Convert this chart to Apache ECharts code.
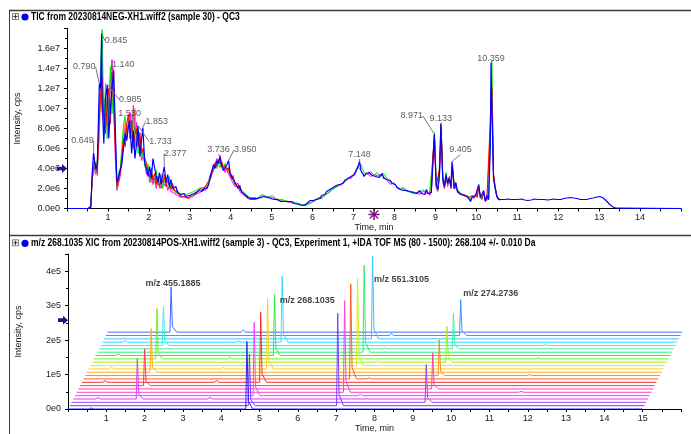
<!DOCTYPE html>
<html>
<head>
<meta charset="utf-8">
<title>TIC and XIC overlay</title>
<script src="https://cdn.jsdelivr.net/npm/echarts@6/dist/echarts.min.js"></script>
<style>
html,body{margin:0;padding:0;background:#fff;}
#chart{width:691px;height:434px;}
</style>
</head>
<body>
<div id="chart"></div>
<script>
// ---------------- TIC panel (intensities in 1e6 cps) ----------------
// main trace sampled every 0.04 min starting at 0.50 min
const ticStart = 0.50;
const ticStep = 0.04;
const ticEnd = 15;
const ticBlue = [
  0, 0, 0.1, 3.8, 4.6, 3.9, 4.4, 9.5, 12.0, 10.5,
  6.5, 11.0, 9.0, 7.0, 10.0, 12.0, 13.5, 8.0, 2.6, 3.2,
  3.0, 4.5, 6.0, 7.5, 6.8, 8.2, 7.6, 5.5, 7.8, 5.0,
  6.5, 7.0, 5.2, 6.8, 7.2, 4.5, 4.0, 3.2, 4.2, 3.0,
  5.0, 4.8, 3.2, 2.6, 3.6, 2.4, 3.4, 3.9, 2.6, 3.4,
  2.2, 2.9, 2.0, 1.8, 2.2, 1.6, 1.5, 1.4, 1.3, 1.5,
  1.2, 1.1, 1.3, 1.2, 1.4, 1.3, 1.5, 1.6, 1.8, 1.9,
  1.7, 2.0, 2.2, 2.0, 2.4, 3.2, 3.8, 4.4, 4.0, 4.8,
  4.5, 5.0, 4.2, 3.8, 3.9, 4.3, 4.6, 3.6, 3.2, 3.0,
  2.6, 2.8, 2.0, 2.3, 1.7, 1.6, 1.4, 1.2, 1.1, 0.9,
  1.0, 0.8, 1.0, 1.1, 1.0, 1.2, 1.1, 1.3, 1.2, 1.3,
  1.1, 1.2, 1.0, 1.1, 0.9, 0.8, 0.9, 0.8, 0.7, 0.8,
  0.7, 0.6, 0.7, 0.6, 0.7, 0.6, 0.5, 0.55, 0.45, 0.4,
  0.35, 0.3, 0.3, 0.35, 0.5, 0.6, 0.8, 0.9, 0.8, 1.0,
  0.9, 1.1, 1.0, 1.3, 1.5, 1.4, 1.7, 1.6, 1.9, 1.8,
  2.1, 2.0, 2.3, 2.2, 2.4, 2.6, 2.5, 2.8, 2.7, 3.0,
  2.9, 3.2, 3.1, 3.4, 3.6, 4.1, 4.5, 3.8, 3.5, 3.2,
  3.5, 3.3, 3.6, 3.4, 3.3, 3.5, 3.2, 3.4, 3.1, 3.3,
  3.5, 3.0, 3.2, 2.9, 2.7, 2.8, 2.5, 2.3, 2.4, 2.1,
  2.2, 1.9, 2.0, 1.8, 1.7, 1.8, 1.6, 1.7, 1.5, 1.6,
  1.4, 1.5, 1.4, 1.8, 1.5, 1.7, 1.4, 1.9, 1.5, 1.3,
  1.6, 4.5, 6.8, 2.4, 1.9, 3.5, 8.0, 3.0, 2.2, 3.4,
  2.5, 3.0, 2.2, 3.8, 2.0, 2.6, 1.7, 1.6, 1.4, 1.5,
  1.3, 1.4, 1.2, 1.3, 0.7, 1.2, 1.1, 1.3, 1.2, 2.4,
  1.1, 1.0, 1.8, 0.7, 1.3, 0.9, 6.0, 10.0, 3.0, 2.0,
  1.2, 0.9, 0.8, 0.9, 0.85, 0.9, 0.8, 0.95, 0.85, 0.9,
  0.85, 0.9, 0.8, 0.9, 0.85, 0.95, 0.9, 0.85, 0.9, 0.8,
  0.9, 0.85, 0.9, 0.95, 0.85, 0.9, 0.8, 0.9, 0.85, 0.9,
  0.95, 0.85, 0.9, 0.9, 0.85, 0.95, 0.9, 0.9, 0.95, 0.9,
  0.95, 1.0, 0.95, 1.05, 1.0, 1.1, 1.0, 1.05, 0.95, 1.0,
  0.95, 0.9, 0.95, 0.9, 0.95, 0.9, 0.95, 1.0, 0.95, 1.05,
  1.1, 1.15, 1.2, 1.2, 1.15, 1.05, 0.9, 0.75, 0.55, 0.4,
  0.25, 0.15, 0.08, 0.03, 0
];

// replicate injections, early window (same grid, from 0.50 min)
const ticRedEarly = [
  0, 0, 0.2, 3.4, 4.2, 4.6, 3.6, 8.0, 11.5, 13.0,
  9.0, 7.5, 10.5, 12.0, 8.5, 13.6, 10.0, 6.0, 2.2, 2.8,
  3.6, 5.2, 7.0, 6.2, 8.5, 9.4, 7.0, 8.8, 6.0, 7.4,
  8.0, 6.2, 7.6, 5.5, 6.0, 5.0, 4.6, 3.6, 3.2, 4.0,
  2.8, 3.5, 2.4, 3.2, 2.2, 3.0, 2.6, 3.4, 2.2, 2.8,
  2.4, 2.0, 2.5, 1.8, 1.6, 1.7, 1.3, 1.4, 1.2, 1.3,
  1.1, 1.2, 1.0, 1.3, 1.2, 1.5, 1.4, 1.7, 1.6, 2.0,
  1.9, 1.8, 2.3, 2.1, 2.6, 3.0, 3.6, 4.0, 4.6, 4.2,
  4.9, 4.4, 4.7, 4.0, 4.3, 3.8, 4.1, 3.4, 3.0, 3.3,
  2.4, 2.2, 2.5, 1.9, 1.8, 1.5, 1.6, 1.3, 1.2, 1.0,
  1.1, 0.9, 1.0, 1.0
];
const ticGreenEarly = [
  0, 0, 0.3, 3.0, 4.8, 3.4, 5.0, 7.0, 14.0, 17.9,
  8.0, 12.5, 7.0, 10.0, 14.2, 9.5, 12.8, 7.0, 2.0, 3.6,
  4.0, 6.0, 8.4, 9.2, 7.2, 9.0, 8.0, 7.0, 9.5, 6.2,
  7.8, 5.5, 6.6, 5.0, 5.6, 4.2, 3.8, 4.4, 2.8, 3.6,
  3.0, 2.6, 3.8, 2.4, 2.8, 3.4, 2.0, 2.8, 3.0, 2.1,
  3.2, 1.9, 2.2, 2.0, 1.5, 1.8, 1.6, 1.2, 1.5, 1.3,
  1.4, 1.2, 1.5, 1.4, 1.6, 1.5, 1.8, 1.7, 2.0, 1.8,
  2.1, 2.3, 2.0, 2.5, 2.8, 3.4, 3.2, 3.9, 4.3, 4.0,
  4.4, 4.1, 4.6, 4.2, 4.5, 4.0, 3.7, 3.8, 3.4, 2.8,
  3.0, 2.4, 2.6, 2.1, 1.9, 1.7, 1.5, 1.4, 1.2, 1.1,
  1.0, 1.1, 0.9, 1.1
];
const ticMagentaEarly = [
  0, 0, 0.1, 3.2, 3.6, 4.4, 3.3, 9.0, 12.6, 9.6,
  11.0, 8.0, 11.8, 9.0, 12.4, 14.9, 11.0, 5.0, 1.8, 2.5,
  3.2, 4.6, 6.5, 8.0, 7.0, 8.4, 9.6, 7.5, 10.3, 7.6,
  8.6, 6.5, 7.2, 4.8, 5.2, 4.6, 3.4, 4.0, 2.6, 3.2,
  2.4, 3.0, 2.0, 2.7, 2.5, 2.0, 2.8, 2.3, 2.6, 1.8,
  2.2, 1.7, 1.9, 1.5, 1.4, 1.3, 1.2, 1.1, 1.0, 1.2,
  1.0, 1.1, 0.9, 1.2, 1.1, 1.3, 1.4, 1.5, 1.7, 1.6,
  1.9, 2.0, 1.8, 2.2, 2.5, 2.9, 3.4, 3.8, 4.4, 5.0,
  4.6, 5.3, 4.5, 4.1, 3.6, 4.0, 3.5, 3.2, 2.8, 3.0,
  2.2, 2.0, 2.2, 1.7, 1.6, 1.4, 1.3, 1.1, 1.0, 0.9,
  0.8, 0.9, 0.8, 0.9
];
const ticOrangeEarly = [
  0, 0, 0.2, 3.6, 4.0, 4.2, 4.0, 6.5, 10.8, 12.2,
  8.6, 9.5, 8.2, 11.0, 9.4, 11.6, 13.8, 6.5, 2.4, 3.0,
  3.8, 5.6, 7.4, 8.6, 7.8, 8.0, 8.6, 9.4, 7.2, 10.0,
  7.0, 7.4, 5.8, 6.2, 5.2, 4.8, 4.2, 3.4, 3.6, 2.6,
  3.4, 2.9, 2.6, 3.0, 2.0, 2.6, 2.4, 3.0, 2.4, 2.5,
  2.0, 2.4, 1.7, 2.0, 1.6, 1.5, 1.4, 1.3, 1.2, 1.1,
  1.3, 1.0, 1.2, 1.1, 1.3, 1.2, 1.6, 1.5, 1.8, 1.7,
  2.0, 1.9, 2.2, 2.3, 2.7, 3.1, 3.5, 4.2, 4.0, 4.5,
  4.3, 4.8, 4.4, 4.5, 4.1, 4.2, 3.6, 3.9, 3.1, 2.9,
  2.7, 2.3, 2.4, 2.0, 1.7, 1.6, 1.4, 1.3, 1.1, 1.0,
  0.9, 1.0, 1.0, 0.9
];

// replicate injections, middle window (every 0.08 min from 4.62 min)
const midStart = 4.62;
const midStep = 0.08;
const ticGreenMid = [
  1.0, 1.2, 1.4, 1.2, 1.1, 1.3, 1.0, 0.9, 0.8, 0.8,
  0.7, 0.7, 0.6, 0.5, 0.4, 0.35, 0.4, 0.7, 0.9, 1.0,
  1.1, 1.3, 1.6, 1.9, 2.0, 2.4, 2.3, 2.7, 2.9, 3.2,
  3.3, 4.0, 4.4, 3.6, 3.4, 3.7, 3.3, 3.6, 3.2, 3.5,
  3.0, 2.6, 2.5, 2.2, 2.0, 2.1, 1.8, 1.6, 1.7, 1.5,
  1.6, 1.9, 1.5, 1.5
];
const ticMagentaMid = [
  0.9, 1.1, 1.3, 1.1, 1.2, 1.1, 0.9, 0.8, 0.9, 0.7,
  0.6, 0.7, 0.5, 0.5, 0.35, 0.3, 0.5, 0.6, 0.8, 1.1,
  1.0, 1.4, 1.5, 1.8, 2.1, 2.2, 2.5, 2.6, 3.0, 3.0,
  3.5, 4.2, 3.8, 3.3, 3.5, 3.2, 3.4, 3.3, 3.4, 3.2,
  2.8, 2.4, 2.6, 2.1, 1.9, 2.0, 1.7, 1.7, 1.5, 1.6,
  1.4, 1.7, 1.6, 1.4
];

// replicate injections, late window (every 0.04 min from 8.86 min)
const lateStart = 8.86;
const ticRedLate = [
  1.4, 1.7, 5.5, 7.0, 2.2, 2.0, 4.0, 8.2, 3.2, 2.0,
  3.0, 2.6, 3.2, 2.0, 4.2, 2.2, 2.4, 1.8, 1.5, 1.6,
  1.4, 1.5, 1.2, 1.4, 1.1, 0.9, 1.3, 1.0, 1.4, 1.1,
  2.0, 1.2, 0.9, 1.6, 0.8, 1.2, 1.0, 8.0, 12.0, 3.5,
  2.2, 1.3, 1.0, 0.9
];
const ticGreenLate = [
  1.5, 1.5, 5.0, 7.6, 2.6, 1.8, 4.5, 8.6, 2.8, 2.4,
  3.6, 2.4, 2.8, 2.4, 4.0, 2.4, 2.2, 1.9, 1.7, 1.5,
  1.6, 1.3, 1.5, 1.3, 1.2, 1.0, 1.2, 1.2, 1.3, 1.2,
  2.2, 1.0, 1.1, 1.5, 0.9, 1.1, 1.0, 7.0, 14.8, 3.2,
  2.0, 1.2, 1.0, 0.9
];
const ticMagentaLate = [
  1.3, 1.6, 4.8, 6.4, 2.0, 1.7, 3.2, 7.6, 2.6, 2.1,
  3.2, 2.2, 2.9, 2.1, 4.4, 2.0, 2.3, 1.6, 1.6, 1.4,
  1.5, 1.4, 1.3, 1.2, 1.2, 0.8, 1.1, 1.1, 1.2, 1.0,
  1.9, 1.1, 1.0, 1.4, 0.8, 1.0, 0.9, 7.5, 11.0, 3.0,
  2.1, 1.2, 0.9, 0.8
];
const ticOrangeLate = [
  1.5, 1.6, 5.2, 6.8, 2.3, 1.9, 3.8, 7.9, 3.0, 2.2,
  3.3, 2.5, 3.0, 2.3, 4.1, 2.1, 2.5, 1.7, 1.6, 1.5,
  1.5, 1.4, 1.4, 1.3, 1.1, 0.9, 1.2, 1.1, 1.3, 1.1,
  2.1, 1.1, 1.0, 1.5, 0.8, 1.1, 1.0, 9.0, 13.0, 3.3,
  2.2, 1.3, 1.0, 0.9
];

// labelled apexes of the main trace (retention time in min, intensity in 1e6 cps)
const peakTimes = [0.649, 0.790, 0.845, 0.985, 1.140, 1.530, 1.733, 1.853, 2.377, 3.736, 3.950, 7.148, 8.971, 9.133, 9.405, 10.359];
const peakValues = [5.6, 12.5, 17.5, 12.4, 13.8, 8.8, 8.3, 8.1, 4.2, 5.2, 4.8, 4.7, 7.45, 8.45, 4.7, 14.6];

// ---------------- XIC panel (waterfall of 24 traces) ----------------
const xicTraceCount = 24;
const xicEnd = 15;
const xicShiftMin = 0.045;   // horizontal step between stacked traces (min)
const xicShiftCps = 9700;    // vertical step between stacked traces (cps)
// peaks: [trace index, retention time (min), height (cps)]
const peaks455 = [[3, 1.675, 117000], [7, 1.685, 107000], [11, 1.675, 127000], [15, 1.645, 146000], [19, 1.635, 112000], [23, 1.655, 131000]];
const peaks268 = [[0, 4.67, 196000], [1, 4.69, 150000], [4, 4.68, 213000], [8, 4.67, 203000], [12, 4.67, 204000], [16, 4.67, 177000], [20, 4.69, 192000]];
const peaks551 = [[1, 6.995, 268000], [5, 6.995, 266000], [9, 6.975, 276000], [13, 6.975, 252000], [17, 6.965, 252000], [21, 7.005, 240000]];
const peaks274 = [[2, 9.26, 110000], [6, 9.25, 105000], [10, 9.24, 104000], [14, 9.26, 105000], [18, 9.25, 104000], [22, 9.26, 104000]];
// small baseline bumps: [trace index, retention time (min), height (cps)]
const xicBumps = [
  [0, 0.61, 3000], [3, 0.645, 4000], [8, 0.61, 5000], [12, 0.60, 5000], [16, 0.60, 4000], [20, 0.59, 5000],
  [3, 3.57, 5000], [8, 3.52, 5000], [12, 3.52, 4000], [15, 3.555, 5000], [20, 3.55, 4000], [23, 3.545, 6000],
  [4, 7.45, 4000], [9, 7.45, 3000], [14, 7.45, 4000], [18, 7.45, 3000], [22, 7.45, 5000],
  [5, 11.6, 3000], [10, 11.6, 3000], [15, 11.6, 3000], [19, 11.6, 3000]
];
const xicLabelNames = ['m/z 455.1885', 'm/z 268.1035', 'm/z 551.3105', 'm/z 274.2736'];
const xicLabelTraces = [23, 20, 21, 22];

// ---------------- styles ----------------
const FONT = "'Liberation Sans', Arial, sans-serif";
const xicColors = [
  '#2626ff', '#7a3cff', '#a83cff', '#d040f0', '#ff40ff', '#ff40d8',
  '#ff40a8', '#ff3070', '#ff2a2a', '#ff5a2a', '#ff8a1a', '#ffaa20',
  '#ffd020', '#d8ef20', '#a8f020', '#70f020', '#30f030', '#30f070',
  '#40f0a8', '#40f0d8', '#30e0ff', '#40c0ff', '#4096ff', '#4068ff'
];
// label displacement for the TIC apex labels [dx, dy] in px
const peakLabelShift = [[-11, -4.5], [-15, -9.5], [14.5, 14], [23, 22], [9.5, 1], [0, 0], [22.5, 23], [14, 1], [11, -6], [-1.5, 0], [16.5, -3.5], [0, 0], [-22.5, -11], [0, 2], [8.5, -4.5], [0, 3]];
const xicLabelPlacement = [
  { position: 'top', distance: 0, offset: [2, 1.5] },
  { position: 'right', distance: 0, offset: [-3, 24] },
  { position: 'right', distance: 0, offset: [1, 23] },
  { position: 'right', distance: 0, offset: [2, -6] }
];

// ---------------- helpers ----------------
function gridPoints(start, step, values) {
  return values.map((v, k) => [+(start + step * k).toFixed(3), v * 1e6]);
}

function xicTrace(i) {
  const events = [];
  [peaks455, peaks268, peaks551, peaks274].forEach(list => list.forEach(p => {
    if (p[0] === i) events.push({ rt: p[1], h: p[2], peak: true });
  }));
  xicBumps.forEach(b => { if (b[0] === i) events.push({ rt: b[1], h: b[2], peak: false }); });
  events.sort((a, b) => a.rt - b.rt);
  const pts = [[0, 0]];
  events.forEach(e => {
    if (e.peak) pts.push([e.rt - 0.03, 0], [e.rt, e.h], [e.rt + 0.035, e.h * 0.12], [e.rt + 0.15, 0]);
    else pts.push([e.rt - 0.06, 0], [e.rt, e.h], [e.rt + 0.06, 0]);
  });
  pts.push([xicEnd, 0]);
  return pts.map(p => [p[0] + i * xicShiftMin, p[1] + i * xicShiftCps]);
}

const blueData = [[0, 0]]
  .concat(gridPoints(ticStart, ticStep, ticBlue).filter(p => !peakTimes.some(t => Math.abs(t - p[0]) < 0.012)))
  .concat(peakTimes.map((t, i) => [t, peakValues[i] * 1e6]))
  .concat([[ticEnd, 0]])
  .sort((a, b) => a[0] - b[0]);

function ticLine(data, color, width) {
  return {
    type: 'line', xAxisIndex: 0, yAxisIndex: 0, data: data,
    showSymbol: false, symbol: 'none', silent: true,
    lineStyle: { color: color, width: width || 1 }, z: 2
  };
}

const arrowPath = 'path://M0,3 L5,3 L5,0 L10,5 L5,10 L5,7 L0,7 Z';
const series = [
  ticLine(gridPoints(ticStart, ticStep, ticOrangeEarly), '#ff8c00'),
  ticLine(gridPoints(lateStart, ticStep, ticOrangeLate), '#ff8c00'),
  ticLine(gridPoints(ticStart, ticStep, ticMagentaEarly), '#ff00ff'),
  ticLine(gridPoints(midStart, midStep, ticMagentaMid), '#ff00ff'),
  ticLine(gridPoints(lateStart, ticStep, ticMagentaLate), '#ff00ff'),
  ticLine(gridPoints(ticStart, ticStep, ticGreenEarly), '#00ee00'),
  ticLine(gridPoints(midStart, midStep, ticGreenMid), '#00ee00'),
  ticLine(gridPoints(lateStart, ticStep, ticGreenLate), '#00ee00'),
  ticLine(gridPoints(ticStart, ticStep, ticRedEarly), '#ff0000'),
  ticLine(gridPoints(lateStart, ticStep, ticRedLate), '#ff0000'),
  Object.assign(ticLine(blueData, '#0000ff', 1.2), {
    markPoint: {
      silent: true,
      label: { show: false },
      data: [
        { coord: [0, 4e6], symbol: arrowPath, symbolSize: [10, 9], symbolOffset: [-5, 0], itemStyle: { color: '#17178f' } },
        { coord: [7.5, 0], symbol: 'path://M4.3,0 L5.7,0 L5.7,3.6 L8.3,1 L9.2,1.9 L6.6,4.3 L10,4.3 L10,5.7 L6.6,5.7 L9.2,8.1 L8.3,9 L5.7,6.4 L5.7,10 L4.3,10 L4.3,6.4 L1.7,9 L0.8,8.1 L3.4,5.7 L0,5.7 L0,4.3 L3.4,4.3 L0.8,1.9 L1.7,1 L4.3,3.6 Z', symbolSize: 11, symbolOffset: [0, 6], itemStyle: { color: '#7d137d' } }
      ]
    }
  }),
  {
    type: 'scatter', xAxisIndex: 0, yAxisIndex: 0, silent: true, z: 5,
    data: peakTimes.map((t, i) => [t, peakValues[i] * 1e6]),
    symbol: 'circle', symbolSize: 1, itemStyle: { color: 'rgba(0,0,0,0)' },
    label: {
      show: true, position: 'top', distance: 2,
      formatter: p => p.value[0].toFixed(3),
      color: '#333', fontFamily: FONT, fontSize: 9
    },
    labelLayout: p => ({ dx: peakLabelShift[p.dataIndex][0], dy: peakLabelShift[p.dataIndex][1] }),
    labelLine: { show: true, lineStyle: { color: '#777', width: 1 } }
  }
];

// waterfall traces, back to front
for (let i = xicTraceCount - 1; i >= 0; i--) {
  series.push({
    type: 'line', xAxisIndex: 1, yAxisIndex: 1, data: xicTrace(i),
    showSymbol: false, symbol: 'none', silent: true,
    lineStyle: { color: xicColors[i], width: 1 }, z: 2
  });
}

// compound labels on the rear-most peak of each XIC
const xicLabelData = [peaks455, peaks268, peaks551, peaks274].map((list, k) => {
  const p = list.find(q => q[0] === xicLabelTraces[k]);
  return {
    value: [p[1] + p[0] * xicShiftMin, p[2] + p[0] * xicShiftCps],
    name: xicLabelNames[k],
    label: xicLabelPlacement[k]
  };
});
series.push({
  type: 'scatter', xAxisIndex: 1, yAxisIndex: 1, silent: true, z: 5,
  data: xicLabelData,
  symbol: 'circle', symbolSize: 1, itemStyle: { color: 'rgba(0,0,0,0)' },
  label: {
    show: true, formatter: p => p.name,
    color: '#111', fontFamily: FONT, fontSize: 9, fontWeight: 'bold'
  },
  markPoint: {
    silent: true,
    label: { show: false },
    data: [
      { coord: [0, 258000], symbol: arrowPath, symbolSize: [10, 9], symbolOffset: [-5, 0], itemStyle: { color: '#17178f' } }
    ]
  }
});

// ---------------- axes ----------------
const axisTextStyle = { color: '#1a1a1a', fontFamily: FONT, fontSize: 9 };
const black = { color: '#000', width: 1 };
function timeAxis(gridIndex, max, gap) {
  return {
    type: 'value', gridIndex: gridIndex, min: 0, max: max, interval: 1,
    axisLine: { show: true, lineStyle: black },
    axisTick: { show: true, length: 3, lineStyle: black },
    minorTick: { show: true, splitNumber: 2, length: 3, lineStyle: black },
    splitLine: { show: false }, minorSplitLine: { show: false },
    axisLabel: Object.assign({ margin: 5, showMinLabel: false, showMaxLabel: false }, axisTextStyle),
    name: 'Time, min', nameLocation: 'middle', nameGap: gap,
    nameTextStyle: axisTextStyle
  };
}
function intensityAxis(gridIndex, max, interval, digits) {
  return {
    type: 'value', gridIndex: gridIndex, min: 0, max: max, interval: interval,
    axisLine: { show: true, lineStyle: black },
    axisTick: { show: true, length: 3, lineStyle: black },
    minorTick: { show: true, splitNumber: 2, length: 2, lineStyle: black },
    splitLine: { show: false }, minorSplitLine: { show: false },
    axisLabel: Object.assign({
      margin: 7, showMaxLabel: false,
      formatter: v => v.toExponential(digits).replace('+', '')
    }, axisTextStyle),
    name: 'Intensity, cps', nameLocation: 'middle', nameGap: 45, nameRotate: 90,
    nameTextStyle: axisTextStyle
  };
}

// ---------------- frame and panel headers ----------------
function panelHeader(y, text) {
  return [
    { type: 'rect', shape: { x: 12.5, y: y - 3.5, width: 6, height: 6 }, style: { fill: '#f2f2f2', stroke: '#808080', lineWidth: 1 } },
    { type: 'line', shape: { x1: 13.5, y1: y - 0.5, x2: 17.5, y2: y - 0.5 }, style: { stroke: '#333', lineWidth: 1 } },
    { type: 'line', shape: { x1: 15.5, y1: y - 2.5, x2: 15.5, y2: y + 1.5 }, style: { stroke: '#333', lineWidth: 1 } },
    { type: 'circle', shape: { cx: 25, cy: y, r: 3.6 }, style: { fill: '#0000e6' } },
    { type: 'text', x: 31, y: y, scaleX: 0.85, style: { text: text, fontFamily: FONT, fontSize: 10, fontWeight: 'bold', fill: '#000', verticalAlign: 'middle', align: 'left' } }
  ];
}

const graphic = [
  { type: 'line', shape: { x1: 9, y1: 10.5, x2: 691, y2: 10.5 }, style: { stroke: '#3c3c3c', lineWidth: 1.5 } },
  { type: 'line', shape: { x1: 9.5, y1: 10, x2: 9.5, y2: 434 }, style: { stroke: '#3c3c3c', lineWidth: 1 } },
  { type: 'line', shape: { x1: 9, y1: 235.5, x2: 691, y2: 235.5 }, style: { stroke: '#3c3c3c', lineWidth: 1.5 } }
].concat(
  panelHeader(17, 'TIC from 20230814NEG-XH1.wiff2 (sample 30) - QC3'),
  panelHeader(243.3, 'm/z 268.1035 XIC from 20230814POS-XH1.wiff2 (sample 3) - QC3, Experiment 1, +IDA TOF MS (80 - 1500): 268.104 +/- 0.010 Da')
);

const chart = echarts.init(document.getElementById('chart'), null, { renderer: 'canvas' });
chart.setOption({
  animation: false,
  backgroundColor: '#ffffff',
  grid: [
    { left: 67, right: 10, top: 28.5, bottom: 225.5, containLabel: false, outerBoundsMode: 'none' },
    { left: 68, right: 10, top: 254, bottom: 25, containLabel: false, outerBoundsMode: 'none' }
  ],
  xAxis: [timeAxis(0, 15, 13), timeAxis(1, 16, 14)],
  yAxis: [intensityAxis(0, 1.8e7, 2e6, 1), intensityAxis(1, 4.5e5, 1e5, 0)],
  series: series,
  graphic: graphic
});
</script>
</body>
</html>
